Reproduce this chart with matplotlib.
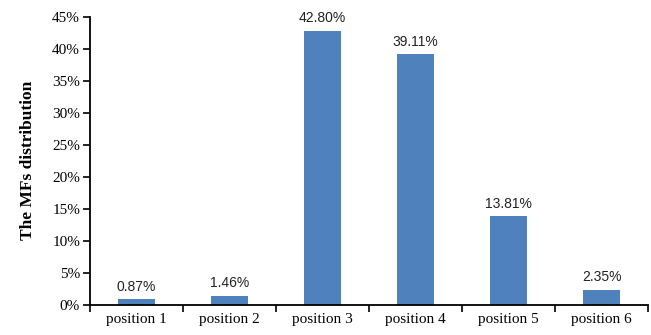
import matplotlib.pyplot as plt
import numpy as np

# share of MFs found at each position
categories = ['position 1', 'position 2', 'position 3', 'position 4', 'position 5', 'position 6']
values = [0.87, 1.46, 42.80, 39.11, 13.81, 2.35]
yticks = [0, 5, 10, 15, 20, 25, 30, 35, 40, 45]

fig = plt.figure(figsize=(6.51, 3.35), dpi=100)
ax = fig.add_axes([0.138, 0.09, 0.858, 0.86])

x = np.arange(len(categories))
ax.bar(x, values, width=0.4, color='#4F81BD', zorder=2)

for xi, v in zip(x, values):
    ax.text(xi, v + 0.9, '%.2f%%' % v, ha='center', va='bottom',
            fontsize=10, family='Liberation Sans', color='#222222')

ax.set_xlim(-0.5, len(categories) - 0.5)
ax.set_ylim(0, 45)
ax.set_yticks(yticks)
ax.set_yticklabels(['%d%%' % t for t in yticks], family='Liberation Serif', fontsize=11)

# labels sit under the bars, ticks mark the category borders
ax.set_xticks(x)
ax.set_xticklabels(categories, family='Liberation Serif', fontsize=11)
ax.tick_params(axis='x', which='major', length=0, pad=6)
ax.set_xticks(np.arange(len(categories) + 1) - 0.5, minor=True)
ax.tick_params(axis='x', which='minor', length=5, width=1.2, direction='out')
ax.tick_params(axis='y', length=5, width=1.2, direction='out', pad=2)

ax.spines['top'].set_visible(False)
ax.spines['right'].set_visible(False)
ax.spines['left'].set_linewidth(1.3)
ax.spines['bottom'].set_linewidth(1.3)

ax.set_ylabel("The MFs distribution", family='Liberation Serif', fontweight='bold',
              fontsize=12.5, labelpad=12)

fig.savefig('out.png', dpi=100)
